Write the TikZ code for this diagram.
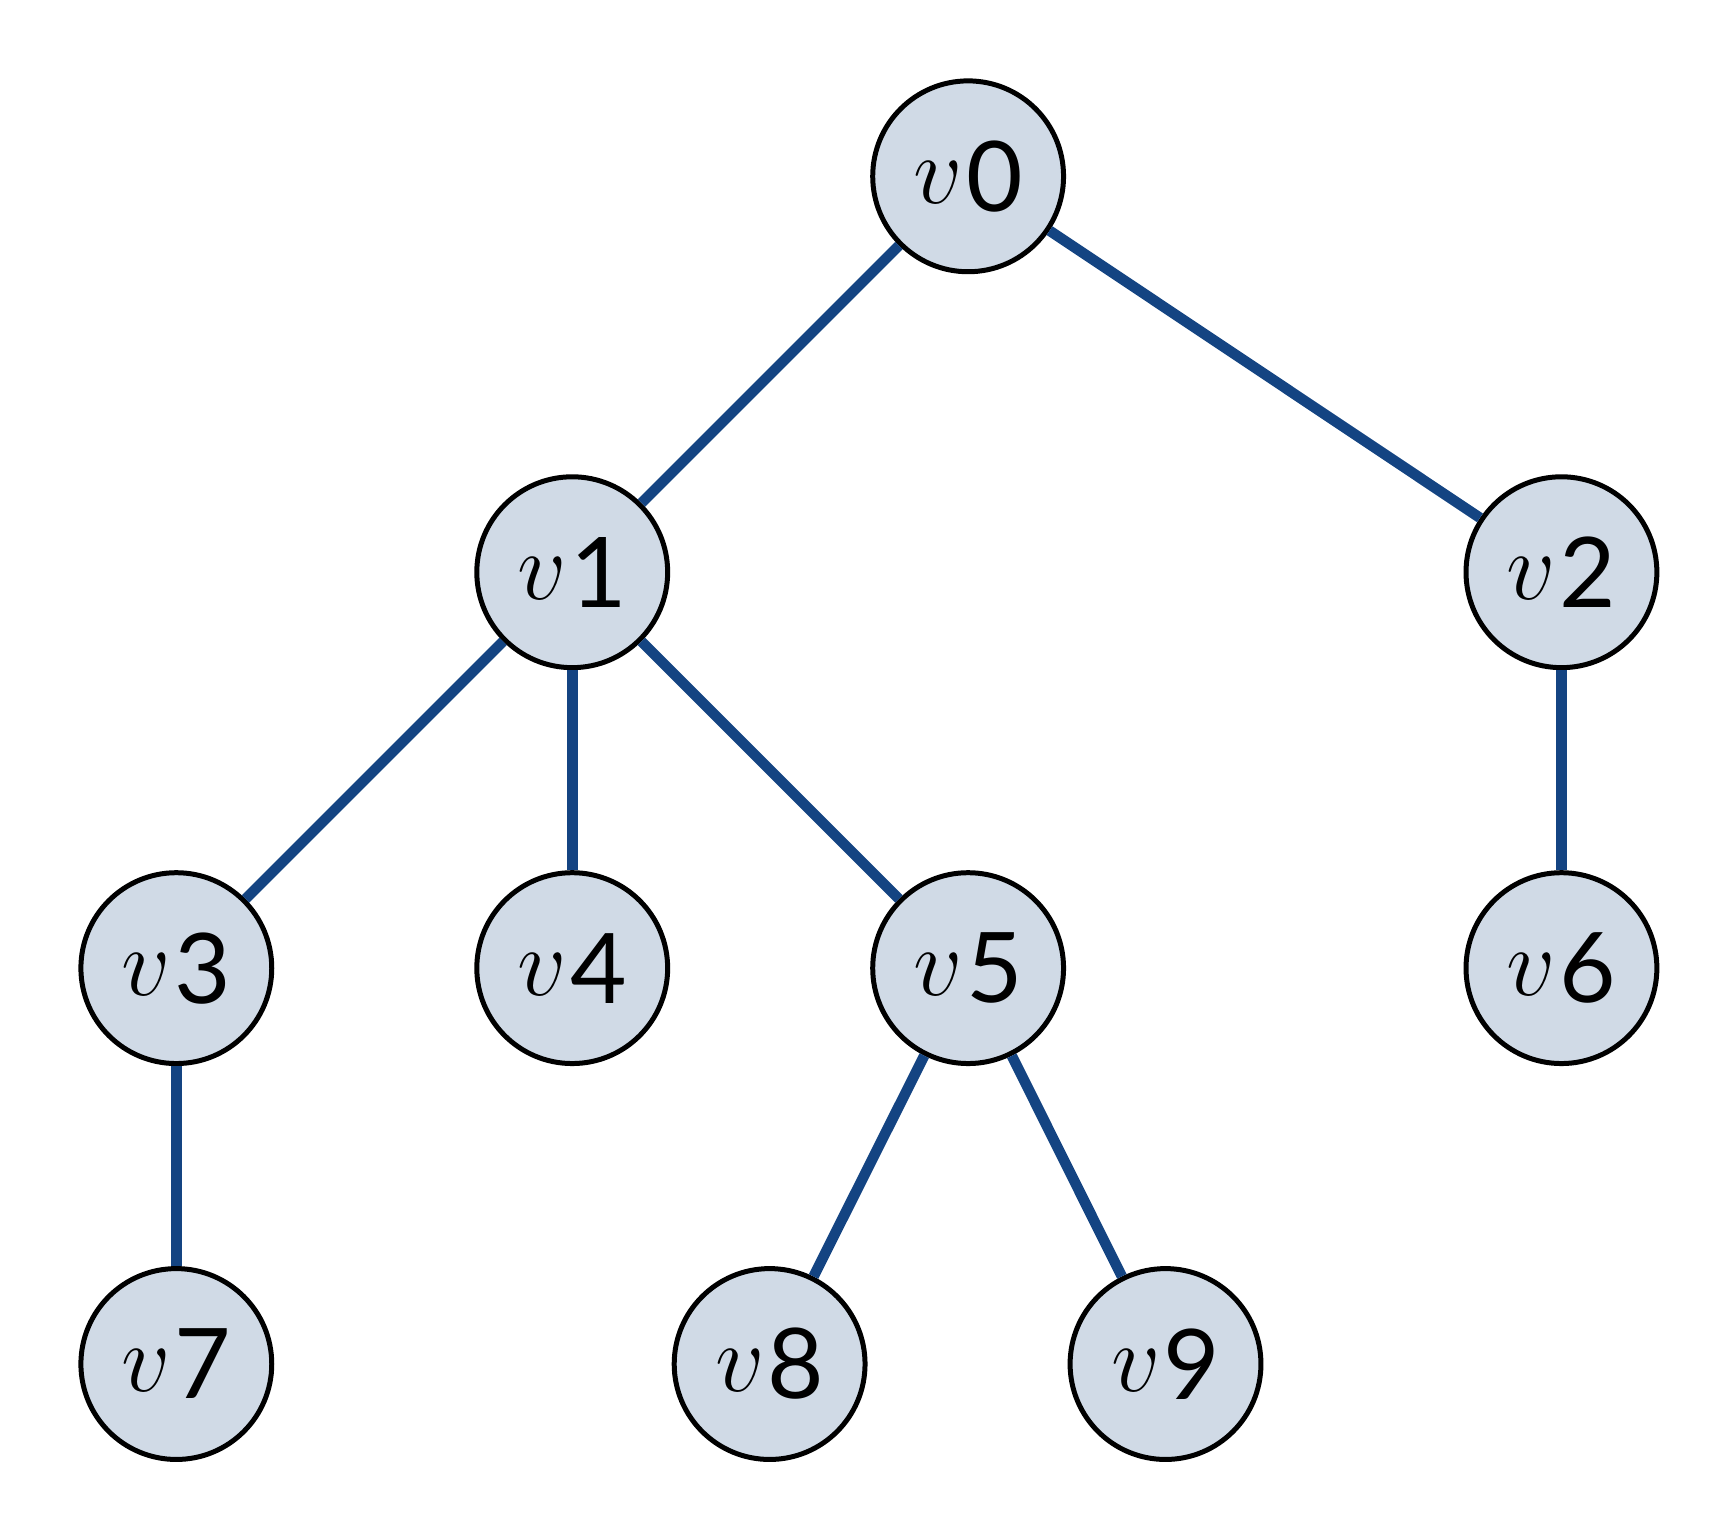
\documentclass[tikz,border=0pt]{standalone}
\usepackage{fontspec}
\newfontfamily\digfont{Lato}
\definecolor{nodefill}{HTML}{D0DAE6}
\definecolor{edgecol}{HTML}{144482}
\newcommand{\vlab}[1]{{\fontsize{46}{50}\selectfont$v$}\kern0.08em\raisebox{-0.45ex}{\digfont\fontsize{25}{30}\selectfont #1}}
\begin{document}
\begin{tikzpicture}[x=0.01cm,y=-0.01cm,
  vert/.style={circle,draw=black,line width=0.045cm,fill=nodefill,minimum size=1.72cm,inner sep=0pt},
  edge/.style={draw=edgecol,line width=0.095cm}]
\useasboundingbox (0,0) rectangle (1560,1383);
\node[vert] (v0) at (873,159) {\vlab{0}};
\node[vert] (v1) at (516,516) {\vlab{1}};
\node[vert] (v2) at (1408,516) {\vlab{2}};
\node[vert] (v3) at (159,873) {\vlab{3}};
\node[vert] (v4) at (516,873) {\vlab{4}};
\node[vert] (v5) at (873,873) {\vlab{5}};
\node[vert] (v6) at (1408,873) {\vlab{6}};
\node[vert] (v7) at (159,1230) {\vlab{7}};
\node[vert] (v8) at (694,1230) {\vlab{8}};
\node[vert] (v9) at (1051,1230) {\vlab{9}};
\foreach \a/\b in {v0/v1,v0/v2,v1/v3,v1/v4,v1/v5,v2/v6,v3/v7,v5/v8,v5/v9}
  \draw[edge] (\a) -- (\b);
\end{tikzpicture}
\end{document}
